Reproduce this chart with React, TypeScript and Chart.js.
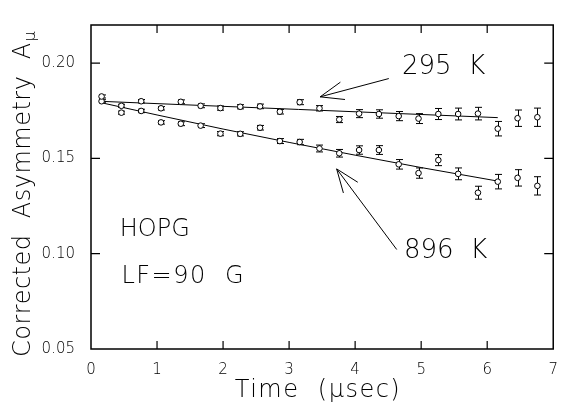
import React, { useEffect, useRef } from "react";
import { Chart, registerables } from "chart.js";

Chart.register(...registerables);

// ---- data ----
const times = [0.16, 0.46, 0.76, 1.06, 1.36, 1.66, 1.96, 2.26, 2.56, 2.86, 3.16, 3.46, 3.76, 4.06, 4.36, 4.66, 4.96, 5.26, 5.56, 5.86, 6.16, 6.46, 6.76];
const asym295 = [0.1825, 0.1776, 0.18, 0.1763, 0.1797, 0.1776, 0.1764, 0.1771, 0.1773, 0.1745, 0.1795, 0.1763, 0.1704, 0.1735, 0.1733, 0.1722, 0.1709, 0.1733, 0.1733, 0.1735, 0.1656, 0.1711, 0.1716];
const asym896 = [0.18, 0.174, 0.1749, 0.1689, 0.1682, 0.1672, 0.163, 0.1629, 0.1661, 0.1591, 0.1586, 0.1552, 0.1527, 0.1544, 0.1544, 0.1469, 0.1423, 0.1491, 0.1419, 0.132, 0.1378, 0.1398, 0.1356];
const err295 = [0.0008, 0.0008, 0.0009, 0.0009, 0.001, 0.001, 0.0011, 0.0011, 0.0012, 0.0012, 0.0013, 0.0014, 0.0016, 0.0021, 0.0022, 0.0024, 0.0026, 0.0029, 0.0031, 0.0033, 0.0038, 0.0043, 0.0048];
const err896 = [0.0008, 0.0008, 0.0009, 0.0009, 0.001, 0.001, 0.0011, 0.0011, 0.0012, 0.0013, 0.0014, 0.0018, 0.002, 0.0022, 0.0023, 0.0025, 0.0027, 0.0029, 0.0031, 0.0034, 0.0038, 0.0043, 0.0048];
const fit295Times = [0.12, 3.14, 6.16];
const fit295Values = [0.18, 0.1757, 0.1714];
const fit896Times = [0.12, 1.0, 2.0, 3.0, 4.0, 5.0, 6.16];
const fit896Values = [0.1795, 0.1728, 0.1654, 0.1584, 0.1517, 0.1452, 0.1381];
const xTicks = [0, 1, 2, 3, 4, 5, 6, 7];
const yTicks = [0.05, 0.1, 0.15, 0.2];
const xTitle = "Time  (\u00b5sec)";
const yTitle = "Corrected  Asymmetry  A";
const ySub = "\u00b5";
// annotations: [text, textX, textY, arrowTipX, arrowTipY, arrowTailX, arrowTailY] in data units
const label295 = ["295  K", 4.71, 0.1976, 3.47, 0.1823, 4.51, 0.1919] as const;
const label896 = ["896  K", 4.74, 0.1012, 3.72, 0.1445, 4.63, 0.1022] as const;
const sampleLabels: [string, number, number][] = [
  ["HOPG", 0.435, 0.1125],
  ["LF=90  G", 0.46, 0.0878],
];

const FAM = "'DejaVu Sans', 'Noto Sans', sans-serif";
const WEIGHT = "200";

const decor = {
  id: "decor",
  beforeDatasetsDraw(chart: any) {
    const { ctx, scales } = chart;
    const x = scales.x, y = scales.y;
    ctx.save();
    ctx.strokeStyle = "#000";
    ctx.lineWidth = 1;
    const sets: [number[], number[]][] = [[asym295, err295], [asym896, err896]];
    sets.forEach(([vals, errs]) => {
      vals.forEach((v, i) => {
        const px = Math.round(x.getPixelForValue(times[i])) + 0.5;
        const y1 = y.getPixelForValue(v + errs[i]);
        const y2 = y.getPixelForValue(v - errs[i]);
        ctx.beginPath();
        ctx.moveTo(px, y1);
        ctx.lineTo(px, y2);
        ctx.moveTo(px - 3.5, y1);
        ctx.lineTo(px + 3.5, y1);
        ctx.moveTo(px - 3.5, y2);
        ctx.lineTo(px + 3.5, y2);
        ctx.stroke();
      });
    });
    ctx.restore();
  },
  afterDraw(chart: any) {
    const { ctx, chartArea: a, scales } = chart;
    const x = scales.x, y = scales.y;
    ctx.save();
    ctx.strokeStyle = "#000";
    ctx.fillStyle = "#000";
    // frame
    ctx.lineWidth = 1.5;
    ctx.strokeRect(a.left, a.top, a.right - a.left, a.bottom - a.top);
    // inner ticks
    ctx.lineWidth = 1.2;
    ctx.beginPath();
    xTicks.forEach((t) => {
      const px = x.getPixelForValue(t);
      if (px <= a.left + 1 || px >= a.right - 1) return;
      ctx.moveTo(px, a.bottom);
      ctx.lineTo(px, a.bottom - 8);
      ctx.moveTo(px, a.top);
      ctx.lineTo(px, a.top + 8);
    });
    yTicks.forEach((v) => {
      const py = y.getPixelForValue(v);
      if (py >= a.bottom - 1 || py <= a.top + 1) return;
      ctx.moveTo(a.left, py);
      ctx.lineTo(a.left + 9, py);
      ctx.moveTo(a.right, py);
      ctx.lineTo(a.right - 9, py);
    });
    ctx.stroke();

    // annotations
    const drawArrow = (lab: readonly [string, number, number, number, number, number, number], size: number) => {
      const [txt, tx, ty, ax, ay, bx, by] = lab;
      ctx.font = `${WEIGHT} ${size}px ${FAM}`;
      ctx.textAlign = "left";
      ctx.textBaseline = "middle";
      ctx.fillText(txt, x.getPixelForValue(tx), y.getPixelForValue(ty));
      const x1 = x.getPixelForValue(ax), y1 = y.getPixelForValue(ay);
      const x2 = x.getPixelForValue(bx), y2 = y.getPixelForValue(by);
      const ang = Math.atan2(y2 - y1, x2 - x1);
      const len = 25, spread = (21 * Math.PI) / 180;
      ctx.lineWidth = 1;
      ctx.beginPath();
      ctx.moveTo(x2, y2);
      ctx.lineTo(x1, y1);
      ctx.moveTo(x1 + len * Math.cos(ang - spread), y1 + len * Math.sin(ang - spread));
      ctx.lineTo(x1, y1);
      ctx.lineTo(x1 + len * Math.cos(ang + spread), y1 + len * Math.sin(ang + spread));
      ctx.stroke();
    };
    drawArrow(label295, 26);
    drawArrow(label896, 26);

    ctx.font = `${WEIGHT} 24px ${FAM}`;
    ctx.textAlign = "left";
    ctx.textBaseline = "middle";
    sampleLabels.forEach(([t, lx, ly], i) => {
      (ctx as any).letterSpacing = i === 1 ? "1.5px" : "0px";
      ctx.fillText(t, x.getPixelForValue(lx), y.getPixelForValue(ly));
    });

    // axis titles
    ctx.font = `${WEIGHT} 24px ${FAM}`;
    ctx.textAlign = "center";
    ctx.textBaseline = "alphabetic";
    (ctx as any).letterSpacing = "1.5px";
    ctx.fillText(xTitle, 318, 397);

    ctx.translate(30, 200);
    ctx.rotate(-Math.PI / 2);
    ctx.textAlign = "left";
    (ctx as any).letterSpacing = "0.5px";
    ctx.font = `${WEIGHT} 24px ${FAM}`;
    ctx.fillText(yTitle, -157, 0);
    const w = ctx.measureText(yTitle).width;
    (ctx as any).letterSpacing = "0px";
    ctx.font = `${WEIGHT} 16px ${FAM}`;
    ctx.fillText(ySub, -157 + w + 1, 5);
    ctx.restore();
  },
};

export default function App() {
  const ref = useRef<HTMLCanvasElement | null>(null);
  useEffect(() => {
    if (!ref.current) return;
    const pts = (vals: number[]) => vals.map((v, i) => ({ x: times[i], y: v }));
    const line = (ts: number[], vs: number[]) => ts.map((t, i) => ({ x: t, y: vs[i] }));
    const pointStyle = {
      showLine: false,
      pointStyle: "circle",
      pointRadius: 2.8,
      pointBackgroundColor: "#fff",
      pointBorderColor: "#000",
      pointBorderWidth: 1,
    };
    const lineStyle = {
      showLine: true,
      pointRadius: 0,
      borderColor: "#000",
      borderWidth: 1,
      fill: false,
    };
    const chart = new Chart(ref.current, {
      type: "scatter",
      data: {
        datasets: [
          { label: "295 K", data: pts(asym295), ...pointStyle },
          { label: "896 K", data: pts(asym896), ...pointStyle },
          { label: "fit 295 K", data: line(fit295Times, fit295Values), ...lineStyle },
          { label: "fit 896 K", data: line(fit896Times, fit896Values), ...lineStyle },
        ] as any,
      },
      options: {
        animation: false,
        responsive: false,
        devicePixelRatio: 1,
        layout: { padding: { top: 20, right: 12, left: 0, bottom: 0 } },
        plugins: { legend: { display: false }, tooltip: { enabled: false } },
        events: [],
        scales: {
          x: {
            type: "linear",
            min: 0,
            max: 7,
            grid: { display: false, drawTicks: false, tickLength: 0 },
            border: { display: false },
            afterBuildTicks: (s: any) => {
              s.ticks = xTicks.map((v) => ({ value: v }));
            },
            afterFit: (s: any) => {
              s.height = 59;
            },
            ticks: {
              padding: 12,
              color: "#000",
              font: { family: FAM, size: 15, weight: WEIGHT as any },
              maxRotation: 0,
              callback: (v: any) => String(v),
            },
          },
          y: {
            type: "linear",
            min: 0.05,
            max: 0.22,
            grid: { display: false, drawTicks: false, tickLength: 0 },
            border: { display: false },
            afterBuildTicks: (s: any) => {
              s.ticks = yTicks.map((v) => ({ value: v }));
            },
            afterFit: (s: any) => {
              s.width = 91;
            },
            ticks: {
              padding: 16,
              color: "#000",
              font: { family: FAM, size: 15, weight: WEIGHT as any },
              callback: (v: any) => Number(v).toFixed(2),
            },
          },
        },
      } as any,
      plugins: [decor],
    });
    return () => chart.destroy();
  }, []);
  return (
    <div style={{ position: "absolute", left: 0, top: 0, width: 570, height: 408, background: "#fff" }}>
      <canvas ref={ref} width={570} height={408} style={{ display: "block" }} />
    </div>
  );
}
